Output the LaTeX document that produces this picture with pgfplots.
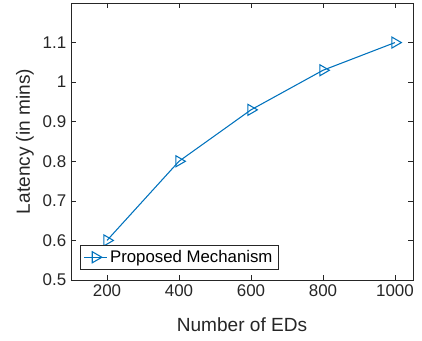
\documentclass[border=0pt]{standalone}
\usepackage{pgfplots}
\pgfplotsset{compat=1.18}
\usepackage{fontspec}
\setmainfont{Liberation Sans}
\definecolor{mblue}{RGB}{0,114,189}
\definecolor{axgray}{RGB}{38,38,38}
\begin{document}
\begin{tikzpicture}
\begin{axis}[
  at={(0pt,0pt)}, anchor=south west,
  scale only axis,
  width=256.5pt, height=207.75pt,
  xmin=100, xmax=1050, ymin=0.5, ymax=1.2,
  xtick={200,400,600,800,1000},
  ytick={0.5,0.6,0.7,0.8,0.9,1,1.1},
  yticklabels={0.5,0.6,0.7,0.8,0.9,1,1.1},
  xticklabels={200,400,600,800,1000},
  tick align=inside,
  tick style={axgray, line width=0.5pt},
  major tick length=3.5pt,
  axis line style={axgray, line width=0.5pt},
  tick label style={font=\fontsize{12.7}{14}\selectfont, text=axgray},
  label style={font=\fontsize{14.3}{16}\selectfont, text=axgray},
  xlabel={Number of EDs},
  ylabel={Latency (in mins)},
  xlabel style={at={(0.5,0)}, anchor=center, yshift=-33.75pt},
  ylabel style={at={(0,0.5)}, anchor=center, yshift=34.5pt},
  legend style={at={(0.026,0.036)}, anchor=south west, draw=axgray, line width=0.5pt,
     font=\fontsize{12.6}{14}\selectfont, inner xsep=2.5pt, inner ysep=2pt, row sep=0pt},
  legend cell align=left,
]
\addplot[mblue, line width=0.8pt, mark=triangle, mark size=4.8pt, mark options={rotate=-90, solid, fill=white}]
  coordinates {(200,0.6) (400,0.8) (600,0.93) (800,1.03) (1000,1.1)};
\addlegendentry{Proposed Mechanism}
\end{axis}
\pgfresetboundingbox
\path (-53.25pt,-45.75pt) rectangle (263.25pt,210pt);
\end{tikzpicture}
\end{document}
